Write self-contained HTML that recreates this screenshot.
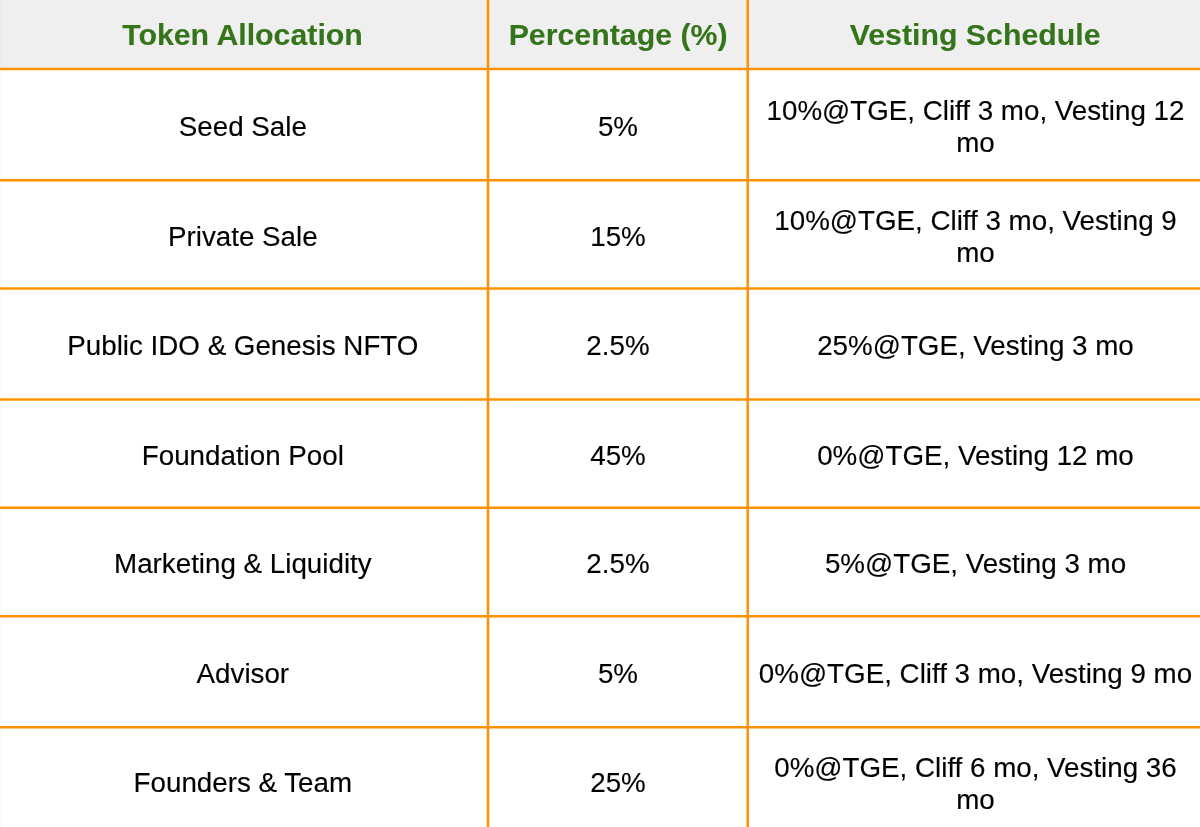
<!DOCTYPE html>
<html lang="en"><head><meta charset="utf-8"><title>Token Allocation</title>
<style>
html,body{margin:0;padding:0;background:#fff;width:1200px;height:827px;overflow:hidden}
svg{display:block}
text{font-family:"Liberation Sans",Arial,Helvetica,sans-serif;stroke-linejoin:round}
.h{font-weight:bold;font-size:30.3px;fill:#34741a;stroke:#34741a;stroke-width:0.1px}
.b{font-size:27.75px;fill:#000;stroke:#000;stroke-width:0.15px}
</style></head><body>
<svg width="1200" height="827" viewBox="0 0 1200 827">
<defs><filter id="gs" x="0" y="0" width="1200" height="827" filterUnits="userSpaceOnUse"><feOffset dx="0" dy="0"/></filter></defs>
<rect x="0" y="0" width="1200" height="827" fill="#fff"/>
<g filter="url(#gs)">
<rect x="-5" y="-5" width="1210" height="74.10" fill="#efefef"/>
<rect x="0" y="0" width="1" height="827" fill="#000" fill-opacity="0.015"/>
<text class="h" x="242.50" y="45.00" text-anchor="middle">Token Allocation</text>
<text class="h" x="618.10" y="45.00" text-anchor="middle">Percentage (%)</text>
<text class="h" x="975.10" y="45.00" text-anchor="middle">Vesting Schedule</text>
<text class="b" x="242.85" y="136.00" text-anchor="middle">Seed Sale</text>
<text class="b" x="618.00" y="136.00" text-anchor="middle">5%</text>
<text class="b" x="975.50" y="120.00" text-anchor="middle">10%@TGE, Cliff 3 mo, Vesting 12</text>
<text class="b" x="975.50" y="152.00" text-anchor="middle">mo</text>
<text class="b" x="242.85" y="246.00" text-anchor="middle">Private Sale</text>
<text class="b" x="618.00" y="246.00" text-anchor="middle">15%</text>
<text class="b" x="975.50" y="230.00" text-anchor="middle">10%@TGE, Cliff 3 mo, Vesting 9</text>
<text class="b" x="975.50" y="262.00" text-anchor="middle">mo</text>
<text class="b" x="242.85" y="355.00" text-anchor="middle">Public IDO &amp; Genesis NFTO</text>
<text class="b" x="618.00" y="355.00" text-anchor="middle">2.5%</text>
<text class="b" x="975.50" y="355.00" text-anchor="middle">25%@TGE, Vesting 3 mo</text>
<text class="b" x="242.85" y="465.00" text-anchor="middle">Foundation Pool</text>
<text class="b" x="618.00" y="465.00" text-anchor="middle">45%</text>
<text class="b" x="975.50" y="465.00" text-anchor="middle">0%@TGE, Vesting 12 mo</text>
<text class="b" x="242.85" y="573.00" text-anchor="middle">Marketing &amp; Liquidity</text>
<text class="b" x="618.00" y="573.00" text-anchor="middle">2.5%</text>
<text class="b" x="975.50" y="573.00" text-anchor="middle">5%@TGE, Vesting 3 mo</text>
<text class="b" x="242.85" y="683.00" text-anchor="middle">Advisor</text>
<text class="b" x="618.00" y="683.00" text-anchor="middle">5%</text>
<text class="b" x="975.50" y="683.00" text-anchor="middle">0%@TGE, Cliff 3 mo, Vesting 9 mo</text>
<text class="b" x="242.85" y="792.00" text-anchor="middle">Founders &amp; Team</text>
<text class="b" x="618.00" y="792.00" text-anchor="middle">25%</text>
<text class="b" x="975.50" y="777.00" text-anchor="middle">0%@TGE, Cliff 6 mo, Vesting 36</text>
<text class="b" x="975.50" y="809.00" text-anchor="middle">mo</text>
<g stroke="#ff9100" stroke-width="2.5" fill="none">
<line x1="-5" y1="69.1" x2="1205" y2="69.1"/>
<line x1="-5" y1="180.2" x2="1205" y2="180.2"/>
<line x1="-5" y1="288.6" x2="1205" y2="288.6"/>
<line x1="-5" y1="399.4" x2="1205" y2="399.4"/>
<line x1="-5" y1="507.8" x2="1205" y2="507.8"/>
<line x1="-5" y1="616.3" x2="1205" y2="616.3"/>
<line x1="-5" y1="727.3" x2="1205" y2="727.3"/>
<line x1="488.0" y1="-5" x2="488.0" y2="832"/>
<line x1="747.7" y1="-5" x2="747.7" y2="832"/>
</g>
</g>
</svg>
</body></html>
